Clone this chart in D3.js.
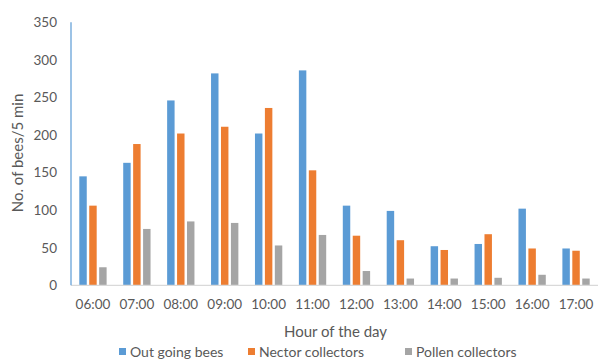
<!DOCTYPE html>
<html>
<head>
<meta charset="utf-8">
<script src="https://cdn.jsdelivr.net/npm/d3@7"></script>
<style>
  html, body { margin: 0; padding: 0; background: #fff; }
  svg { display: block; font-family: Lato, "Open Sans", sans-serif; }
</style>
</head>
<body>
<svg id="chart" width="598" height="360"></svg>
<script>
// Hourly bee counts per 5-minute interval
const hours = ["06:00","07:00","08:00","09:00","10:00","11:00","12:00","13:00","14:00","15:00","16:00","17:00"];
const outGoing = [145, 163, 246, 282, 202, 286, 106, 99, 52, 55, 102, 49];
const nectar   = [106, 188, 202, 211, 236, 153, 66, 60, 47, 68, 49, 46];
const pollen   = [24, 75, 85, 83, 53, 67, 19, 9, 9, 10, 14, 9];
const yTicks   = [0, 50, 100, 150, 200, 250, 300, 350];
const seriesNames = ["Out going bees", "Nector collectors", "Pollen collectors"];
const seriesColors = ["#5B9BD5", "#ED7D31", "#A5A5A5"];

const seriesValues = [outGoing, nectar, pollen];
const svg = d3.select("#chart");

const plot = { left: 71, right: 598, top: 22.3, bottom: 285.3 };

const x = d3.scaleBand().domain(hours).range([plot.left, plot.right]);
const bw = x.bandwidth();
const x1 = d3.scaleBand().domain(d3.range(3)).range([8.3, bw - 8.3]).paddingInner(0.25);
const y = d3.scaleLinear().domain([0, 350]).range([plot.bottom, plot.top]);

// Bars
const rows = hours.map((h, i) => ({ h, vals: seriesValues.map(s => s[i]) }));
svg.append("g").selectAll("g").data(rows).join("g")
  .attr("transform", d => `translate(${x(d.h)},0)`)
  .selectAll("rect").data(d => d.vals.map((v, k) => ({ v, k }))).join("rect")
  .attr("x", d => x1(d.k))
  .attr("width", x1.bandwidth())
  .attr("y", d => y(d.v))
  .attr("height", d => y(0) - y(d.v))
  .attr("fill", d => seriesColors[d.k]);

// Horizontal baseline
svg.append("line")
  .attr("x1", plot.left).attr("x2", plot.right)
  .attr("y1", y(0)).attr("y2", y(0))
  .attr("stroke", "#D9D9D9").attr("stroke-width", 1.2);

// Vertical axis line
svg.append("line")
  .attr("x1", plot.left).attr("x2", plot.left)
  .attr("y1", y(350)).attr("y2", y(0))
  .attr("stroke", "#5B9BD5").attr("stroke-width", 1.2);

// Y tick labels
const yAxis = d3.axisLeft(y).tickValues(yTicks).tickSize(0).tickPadding(14);
const gy = svg.append("g").attr("transform", `translate(${plot.left},0)`).call(yAxis);
gy.select(".domain").remove();
gy.selectAll("text").attr("fill", "#595959").style("font-size", "13.5px").style("font-family", "Lato, sans-serif");

// X tick labels
const xAxis = d3.axisBottom(x).tickSize(0).tickPadding(14);
const gx = svg.append("g").attr("transform", `translate(0,${plot.bottom})`).call(xAxis);
gx.select(".domain").remove();
gx.selectAll("text").attr("fill", "#595959").style("font-size", "13.5px").style("font-family", "Lato, sans-serif");

// Axis titles
svg.append("text")
  .attr("x", 335.5).attr("y", 337)
  .attr("text-anchor", "middle")
  .attr("fill", "#595959").style("font-size", "15px")
  .text("Hour of the day");

svg.append("text")
  .attr("transform", "translate(23,153) rotate(-90)")
  .attr("text-anchor", "middle")
  .attr("fill", "#595959").style("font-size", "15px")
  .text("No. of bees/5 min");

// Legend
const legendX = [119, 248, 405];
const lg = svg.append("g").selectAll("g").data(seriesNames).join("g")
  .attr("transform", (d, i) => `translate(${legendX[i]},352)`);
lg.append("rect").attr("x", 0).attr("y", -4).attr("width", 7).attr("height", 7)
  .attr("fill", (d, i) => seriesColors[i]);
lg.append("text").attr("x", 11).attr("y", 4.5)
  .attr("fill", "#595959").style("font-size", "14px")
  .text(d => d);
</script>
</body>
</html>
